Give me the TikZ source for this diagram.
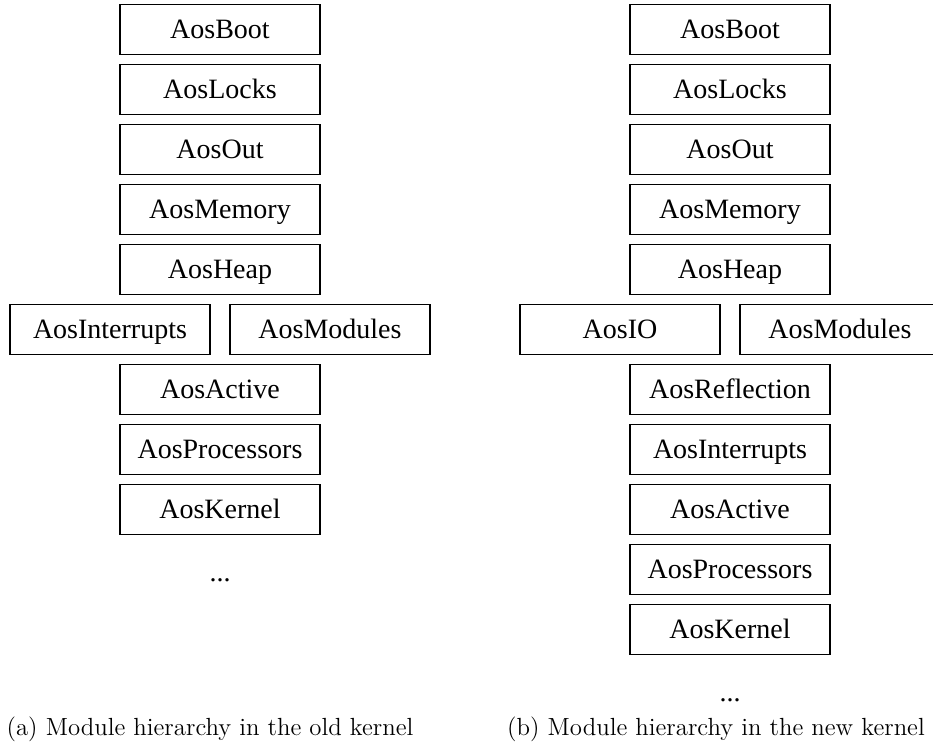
\documentclass[tikz,border=0pt]{standalone}
\usepackage{fontspec}
\newfontfamily\boxfont{Liberation Serif}
\begin{document}
\begin{tikzpicture}[x=0.5pt,y=-0.5pt,
  modbox/.style={draw, line width=0.6pt, minimum width=100pt, minimum height=25pt,
    inner sep=0pt, text height=11pt, text depth=2pt,
    font=\boxfont\fontsize{14}{16}\selectfont},
  dots/.style={inner sep=0pt, font=\boxfont\fontsize{14}{16}\selectfont},
  caption/.style={inner sep=0pt, font=\fontsize{12.4}{14}\selectfont}]
\useasboundingbox (0,0) rectangle (933,749);

% old kernel
\node[modbox] (aboot) at (220,29.3) {AosBoot};
\node[modbox] (alocks) at (220,89.3) {AosLocks};
\node[modbox] (aout) at (220,149.3) {AosOut};
\node[modbox] (amem) at (220,209.3) {AosMemory};
\node[modbox] (aheap) at (220,269.3) {AosHeap};
\node[modbox] (aint) at (110,329.3) {AosInterrupts};
\node[modbox] (amod) at (330,329.3) {AosModules};
\node[modbox] (aact) at (220,389.3) {AosActive};
\node[modbox] (aproc) at (220,449.3) {AosProcessors};
\node[modbox] (akern) at (220,509.3) {AosKernel};
\node[dots] (adots) at (220,580) {...};
\node[caption] (acap) at (210,729) {(a) Module hierarchy in the old kernel};

% new kernel
\node[modbox] (bboot) at (730,29.3) {AosBoot};
\node[modbox] (blocks) at (730,89.3) {AosLocks};
\node[modbox] (bout) at (730,149.3) {AosOut};
\node[modbox] (bmem) at (730,209.3) {AosMemory};
\node[modbox] (bheap) at (730,269.3) {AosHeap};
\node[modbox] (bio) at (620,329.3) {AosIO};
\node[modbox] (bmod) at (840,329.3) {AosModules};
\node[modbox] (brefl) at (730,389.3) {AosReflection};
\node[modbox] (bint) at (730,449.3) {AosInterrupts};
\node[modbox] (bact) at (730,509.3) {AosActive};
\node[modbox] (bproc) at (730,569.3) {AosProcessors};
\node[modbox] (bkern) at (730,629.3) {AosKernel};
\node[dots] (bdots) at (730,700) {...};
\node[caption] (bcap) at (716,729) {(b) Module hierarchy in the new kernel};
\end{tikzpicture}
\end{document}
